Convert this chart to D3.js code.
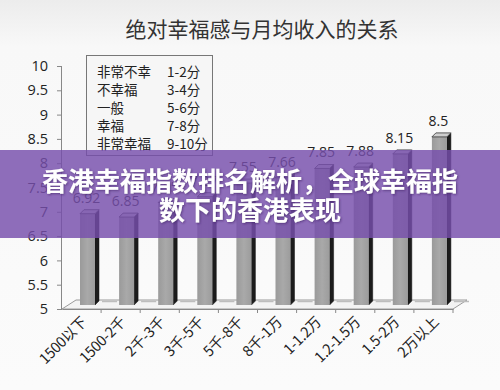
<!DOCTYPE html>
<html><head><meta charset="utf-8">
<script src="https://cdn.jsdelivr.net/npm/d3@7"></script>
<style>
html,body{margin:0;padding:0;background:#f7f7f7;}
svg{display:block;}
</style></head>
<body>
<svg id="c" width="500" height="390"></svg>
<script>
const categories = ["1500以下","1500-2千","2千-3千","3千-5千","5千-8千","8千-1万","1-1.2万","1.2-1.5万","1.5-2万","2万以上"];
const values = [6.92, 6.85, 7.15, 7.27, 7.55, 7.66, 7.85, 7.88, 8.15, 8.5];
const valueLabels = ["6.92","6.85","7.15","7.27","7.55","7.66","7.85","7.88","8.15","8.5"];
const yTicks = [5, 5.5, 6, 6.5, 7, 7.5, 8, 8.5, 9, 9.5, 10];
const legendNames = ["非常不幸","不幸福","一般","幸福","非常幸福"];
const legendScores = ["1-2分","3-4分","5-6分","7-8分","9-10分"];
const title = "绝对幸福感与月均收入的关系";
const bannerLines = ["香港幸福指数排名解析，全球幸福指","数下的香港表现"];

const svg = d3.select("#c");
const defs = svg.append("defs");
const bg = defs.append("linearGradient").attr("id","bg").attr("x1",0).attr("x2",0).attr("y1",0).attr("y2",1);
bg.append("stop").attr("offset","0").attr("stop-color","#ececec");
bg.append("stop").attr("offset","0.12").attr("stop-color","#f8f8f8");
bg.append("stop").attr("offset","1").attr("stop-color","#fbfbfb");
svg.append("rect").attr("width",500).attr("height",390).attr("fill","url(#bg)");

const fg = defs.append("linearGradient").attr("id","front").attr("x1",0).attr("x2",1);
fg.append("stop").attr("offset","0").attr("stop-color","#9a9a9a");
fg.append("stop").attr("offset","0.5").attr("stop-color","#a9a9a9");
fg.append("stop").attr("offset","1").attr("stop-color","#9c9c9c");

const sh = defs.append("filter").attr("id","ts").attr("x","-10%").attr("y","-20%").attr("width","120%").attr("height","140%");
sh.append("feDropShadow").attr("dx",1).attr("dy",1).attr("stdDeviation",1).attr("flood-color","#3a2060").attr("flood-opacity",0.6);

const fontCJK = "'Noto Sans CJK SC','Noto Sans',sans-serif";
const fontNum = "'Open Sans','Noto Sans CJK SC',sans-serif";

// title
svg.append("text").attr("x",262).attr("y",37).attr("text-anchor","middle")
  .attr("font-family",fontCJK).attr("font-size",21).attr("fill","#333").text(title);

const x = d3.scaleBand().domain(categories).range([62,453]).padding(0);
const y = d3.scaleLinear().domain([5,10]).range([309,66]);

// y axis
const yAxis = svg.append("g").attr("transform","translate(62,0)")
  .call(d3.axisLeft(y).tickValues(yTicks).tickSize(5).tickPadding(9).tickFormat(d3.format("~g")));
yAxis.select(".domain").attr("stroke","#888").attr("d","M-0.5,66V309");
yAxis.selectAll(".tick line").attr("stroke","#888");
yAxis.selectAll(".tick text").attr("font-family",fontNum).attr("font-size",14.5).attr("fill","#222");

// floor
const floorPts = [[62,309],[453,309],[467,300],[76,300]];
svg.append("polygon").attr("points",floorPts.map(p=>p.join(",")).join(" "))
  .attr("fill","#f3f3f3").attr("stroke","#9a9a9a").attr("stroke-width",1);

// x axis
const xAxis = svg.append("g").attr("transform","translate(0,309)")
  .call(d3.axisBottom(x).tickSize(0).tickFormat(""));
xAxis.select(".domain").attr("stroke","#888");
svg.append("g").selectAll("line").data(categories).join("line")
  .attr("x1",d=>x(d)+x.bandwidth()).attr("x2",d=>x(d)+x.bandwidth())
  .attr("y1",309).attr("y2",313).attr("stroke","#888");

// floor shadows between bars
const bw = 15, off = 18, dx = 4, dy = 4;
svg.append("g").selectAll("line").data(categories).join("line")
  .attr("x1",d=>x(d)+off+bw+dx+3).attr("x2",d=>x(d)+x.bandwidth()+off-2)
  .attr("y1",301.5).attr("y2",301.5).attr("stroke","#bdbdbd").attr("stroke-width",1.5);

// bars
const bars = svg.append("g").selectAll("g").data(categories.map((c,i)=>({c,v:values[i],l:valueLabels[i]}))).join("g");
const base = 305;
bars.append("polygon")
  .attr("points",d=>{const x0=x(d.c)+off+bw, t=y(d.v)-2;
    return [[x0,t],[x0+dx,t-dy],[x0+dx,base-dy],[x0,base]].map(p=>p.join(",")).join(" ");})
  .attr("fill","#1c1c1c").attr("stroke","#111").attr("stroke-width",0.5);
bars.append("rect")
  .attr("x",d=>x(d.c)+off).attr("y",d=>y(d.v)-2).attr("width",bw).attr("height",d=>base-(y(d.v)-2))
  .attr("fill","url(#front)");
bars.append("polygon")
  .attr("points",d=>{const x0=x(d.c)+off, t=y(d.v)-2;
    return [[x0,t],[x0+bw,t],[x0+bw+dx,t-dy],[x0+dx,t-dy]].map(p=>p.join(",")).join(" ");})
  .attr("fill","#cfcfcf").attr("stroke","#333").attr("stroke-width",0.8);
bars.append("text")
  .attr("x",d=>x(d.c)+off+bw/2-1).attr("y",d=>y(d.v)-13)
  .attr("text-anchor","middle").attr("font-family",fontNum).attr("font-size",14).attr("fill","#222")
  .text(d=>d.l);

// x labels
svg.append("g").selectAll("text").data(categories).join("text")
  .attr("transform",d=>`translate(${x(d)+x.bandwidth()/2+6},323) rotate(-45)`)
  .attr("text-anchor","end").attr("font-family",fontCJK).attr("font-size",14.5).attr("fill","#222")
  .attr("letter-spacing",-0.3)
  .text(d=>d);

// legend
const lg = svg.append("g");
lg.append("rect").attr("x",86.5).attr("y",55.5).attr("width",126).attr("height",100)
  .attr("fill","#f6f6f6").attr("stroke","#777").attr("stroke-width",1);
lg.selectAll("text.n").data(legendNames).join("text").attr("class","n")
  .attr("x",97).attr("y",(d,i)=>77+i*18).attr("font-family",fontCJK).attr("font-size",13.5).attr("fill","#222").text(d=>d);
lg.selectAll("text.s").data(legendScores).join("text").attr("class","s")
  .attr("x",167).attr("y",(d,i)=>77+i*18).attr("font-family",fontCJK).attr("font-size",13.5).attr("fill","#222").text(d=>d);

// banner overlay
svg.append("rect").attr("x",0).attr("y",150).attr("width",500).attr("height",88)
  .attr("fill","rgb(118,78,172)").attr("fill-opacity",0.82);
svg.append("g").selectAll("text").data(bannerLines).join("text")
  .attr("x",250).attr("y",(d,i)=>191+i*29).attr("text-anchor","middle")
  .attr("font-family",fontCJK).attr("font-weight","bold").attr("font-size",26).attr("fill","#fff")
  .attr("filter","url(#ts)")
  .text(d=>d);
</script>
</body></html>
